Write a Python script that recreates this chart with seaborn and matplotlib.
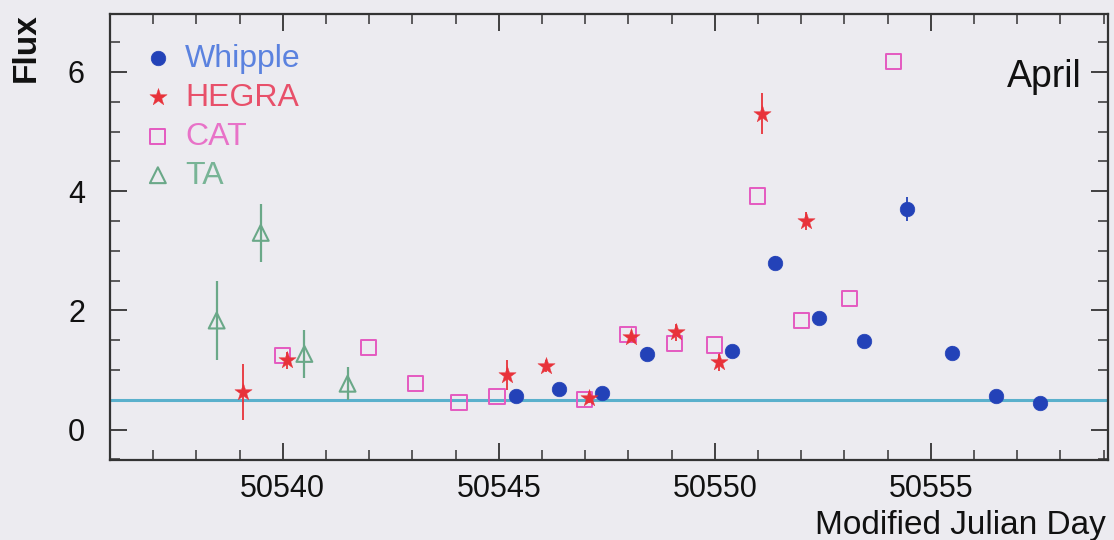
import matplotlib
matplotlib.use("Agg")
import matplotlib.pyplot as plt
import seaborn as sns
from matplotlib.ticker import MultipleLocator

# ---- data ----
whipple_mjd = [50545.4, 50546.4, 50547.4, 50548.43, 50550.39, 50551.4, 50552.42, 50553.46, 50554.45, 50555.49, 50556.51, 50557.52]
whipple_flux = [0.57, 0.69, 0.62, 1.27, 1.32, 2.80, 1.88, 1.48, 3.70, 1.28, 0.57, 0.44]
whipple_err = [0.06, 0.06, 0.06, 0.12, 0.08, 0.12, 0.08, 0.08, 0.20, 0.12, 0.06, 0.06]

hegra_mjd = [50539.07, 50540.09, 50545.19, 50546.09, 50547.09, 50548.05, 50549.09, 50550.09, 50551.10, 50552.12]
hegra_flux = [0.63, 1.16, 0.91, 1.06, 0.53, 1.56, 1.63, 1.14, 5.30, 3.50]
hegra_err = [0.47, 0.15, 0.25, 0.10, 0.08, 0.08, 0.15, 0.15, 0.35, 0.15]

cat_mjd = [50540.0, 50541.98, 50543.07, 50544.08, 50544.96, 50546.99, 50547.99, 50549.07, 50549.99, 50550.99, 50552.0, 50553.11, 50554.13]
cat_flux = [1.25, 1.38, 0.77, 0.46, 0.56, 0.50, 1.60, 1.45, 1.42, 3.92, 1.83, 2.20, 6.17]

ta_mjd = [50538.47, 50539.49, 50540.50, 50541.50]
ta_flux = [1.83, 3.30, 1.27, 0.77]
ta_err = [0.66, 0.48, 0.40, 0.28]

baseline_flux = 0.5

xticks = [50540, 50545, 50550, 50555]
yticks = [0, 2, 4, 6]

c_whipple, t_whipple = "#2342b8", "#5b82df"
c_hegra, t_hegra = "#e8323a", "#e8506a"
c_cat, t_cat = "#e45ac0", "#e872c8"
c_ta, t_ta = "#6aa888", "#78b496"
bg = "#ecebf0"

sns.set_theme(style="ticks")
plt.rcParams["font.family"] = ["Liberation Sans", "DejaVu Sans"]

fig = plt.figure(figsize=(11.14, 5.4), dpi=100, facecolor=bg)
ax = fig.add_axes([0.0987, 0.148, 0.8959, 0.826])
ax.set_facecolor(bg)

ax.axhline(baseline_flux, color="#5ab0cc", lw=2.2, zorder=1)

ax.errorbar(ta_mjd, ta_flux, yerr=ta_err, fmt="none", ecolor=c_ta, elinewidth=1.6, zorder=2)
ax.errorbar(hegra_mjd, hegra_flux, yerr=hegra_err, fmt="none", ecolor=c_hegra, elinewidth=1.3, zorder=2)
ax.errorbar(whipple_mjd, whipple_flux, yerr=whipple_err, fmt="none", ecolor=c_whipple, elinewidth=1.3, zorder=2)

sns.scatterplot(x=whipple_mjd, y=whipple_flux, ax=ax, marker="o", s=110, color=c_whipple,
                edgecolor=c_whipple, linewidth=0.5, label="Whipple", zorder=4)
sns.scatterplot(x=hegra_mjd, y=hegra_flux, ax=ax, marker="*", s=170, color=c_hegra,
                edgecolor=c_hegra, linewidth=0.3, label="HEGRA", zorder=4)
sns.scatterplot(x=cat_mjd, y=cat_flux, ax=ax, marker="s", s=120, facecolor="none",
                edgecolor=c_cat, linewidth=1.4, label="CAT", zorder=3)
sns.scatterplot(x=ta_mjd, y=ta_flux, ax=ax, marker="^", s=130, facecolor="none",
                edgecolor=c_ta, linewidth=1.5, label="TA", zorder=3)

ax.set_xlim(50536, 50559.1)
ax.set_ylim(-0.51, 6.97)
ax.set_xticks(xticks)
ax.set_yticks(yticks)
ax.xaxis.set_minor_locator(MultipleLocator(1))
ax.yaxis.set_minor_locator(MultipleLocator(0.5))
ax.tick_params(which="both", direction="in", top=True, right=True, colors="#333333",
               labelcolor="#111111", labelsize=22)
ax.tick_params(which="major", length=12, width=1.3)
ax.tick_params(axis="x", which="major", pad=10)
ax.tick_params(axis="y", which="major", pad=18)
ax.tick_params(which="minor", length=7, width=1.1)
for sp in ax.spines.values():
    sp.set_color("#333333")
    sp.set_linewidth(1.6)

ax.set_xlabel("Modified Julian Day", fontsize=24, color="#111111", ha="right")
ax.xaxis.set_label_coords(0.998, -0.112)
ax.set_ylabel("Flux", fontsize=24, color="#111111", fontweight="bold", ha="right")
ax.yaxis.label.set_va("baseline")
ax.yaxis.set_label_coords(-0.075, 1.002)

ax.text(0.974, 0.836, "April", transform=ax.transAxes, ha="right", va="baseline",
        fontsize=27, color="#111111")

leg = ax.legend(loc="upper left", bbox_to_anchor=(0.016, 0.962), frameon=False,
                fontsize=23, handletextpad=0.25, labelspacing=0.28, borderaxespad=0.0,
                handlelength=1.2, labelcolor=[t_whipple, t_hegra, t_cat, t_ta])

fig.savefig("out.png", dpi=100, facecolor=bg)
